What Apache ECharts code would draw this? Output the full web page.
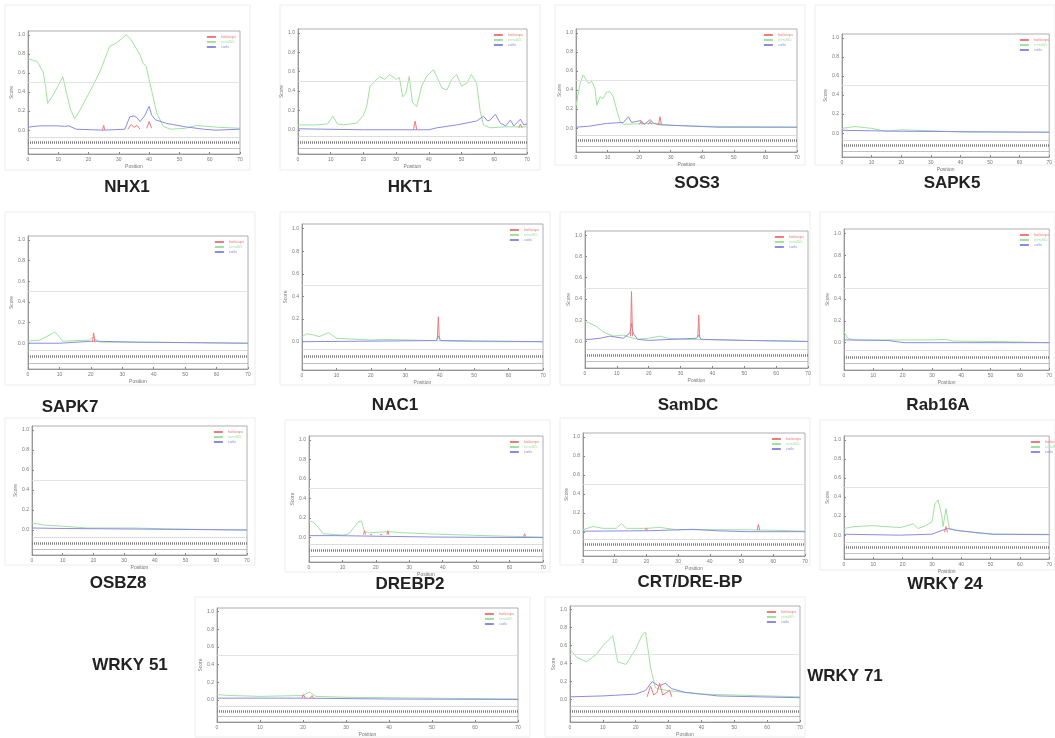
<!DOCTYPE html>
<html>
<head>
<meta charset="utf-8">
<script src="https://cdn.jsdelivr.net/npm/echarts@6/dist/echarts.min.js"></script>
<style>
  html, body { margin: 0; padding: 0; background: #fff; }
  #chart { width: 1055px; height: 738px; }
</style>
</head>
<body>
<div id="chart"></div>
<script>
// tick labels
const xTicks = [0, 10, 20, 30, 40, 50, 60, 70];
const yTicks = [0, 0.2, 0.4, 0.6, 0.8, 1.0];
const seriesNames = ['hotloops', 'rem465', 'coils'];
const genes = ['NHX1', 'HKT1', 'SOS3', 'SAPK5', 'SAPK7', 'NAC1', 'SamDC', 'Rab16A',
  'OSBZ8', 'DREBP2', 'CRT/DRE-BP', 'WRKY 24', 'WRKY 51', 'WRKY 71'];

// [position, score]; '-' breaks the line between spikes
const nhx1Green = [[0,0.75],[3,0.72],[5,0.61],[5.8,0.46],[6.5,0.28],[7.5,0.33],[8.5,0.38],[10,0.47],[11.5,0.56],[12.5,0.42],[14,0.22],[15.4,0.12],[17,0.2],[19,0.32],[21.5,0.47],[24,0.63],[26,0.8],[27,0.88],[29,0.91],[31,0.96],[32.5,1.0],[34,0.95],[35.5,0.87],[37,0.79],[38,0.7],[39,0.67],[40,0.53],[41.3,0.35],[42.5,0.18],[44.7,0.04],[47,0.01],[52,0.02],[55.7,0.05],[59,0.04],[63,0.03],[70,0.02]];
const nhx1Blue = [[0,0.03],[2,0.04],[4,0.045],[10,0.045],[12,0.04],[13.5,0.045],[14.5,0.03],[16,0.01],[25,0.0],[32,0.01],[33.6,0.14],[35,0.15],[36,0.13],[37,0.09],[38.5,0.15],[40,0.25],[40.8,0.16],[42,0.11],[45.8,0.07],[52,0.035],[58,0.01],[62,0.0],[70,0.01]];
const nhx1Red = [[24.6,0.0],[25,0.05],[25.4,0.0],[30,'-'],[33,0.01],[34,0.06],[35,0.03],[36,0.05],[37,0.01],[38,'-'],[39.2,0.02],[40,0.09],[40.8,0.02]];

const hkt1Green = [[0,0.05],[5,0.05],[9,0.06],[10.7,0.14],[12,0.06],[14,0.05],[18,0.07],[20,0.15],[21,0.24],[22,0.45],[23.5,0.5],[25,0.55],[26.5,0.52],[28,0.57],[30,0.52],[31,0.54],[32,0.34],[33,0.38],[34,0.55],[35,0.28],[36.3,0.24],[37.8,0.45],[39.3,0.55],[41.4,0.62],[42.4,0.55],[44,0.43],[45.5,0.41],[47,0.52],[48.5,0.57],[50,0.45],[51.6,0.48],[53,0.57],[54.6,0.48],[55.7,0.19],[56.7,0.05],[58.7,0.02],[63,0.03],[70,0.03]];
const hkt1Blue = [[0,0.01],[20,0.0],[40,0.0],[42.4,0.02],[48.5,0.05],[54.6,0.09],[56.7,0.14],[58,0.09],[58.7,0.1],[60.3,0.16],[61.8,0.07],[63.5,0.04],[64.9,0.1],[66,0.04],[68,0.11],[69,0.05],[70,0.06]];
const hkt1Red = [[35.3,0.0],[35.8,0.09],[36.3,0.0],[37,'-'],[67.5,0.02],[68,0.06],[68.5,0.02]];

const sos3Green = [[0,0.23],[1.3,0.47],[2.3,0.56],[3.9,0.47],[5,0.49],[6,0.42],[6.6,0.24],[7.6,0.33],[8.6,0.31],[9.7,0.38],[10.8,0.38],[11.8,0.33],[12.9,0.19],[14,0.07],[15,0.04],[25,0.05],[30,0.03],[40,0.02],[70,0.01]];
const sos3Blue = [[0,0.01],[4,0.02],[9.7,0.05],[15,0.06],[16.6,0.12],[17.6,0.06],[20.6,0.08],[21.6,0.04],[23.5,0.09],[24.6,0.05],[26.6,0.035],[34,0.025],[45,0.01],[70,0.01]];
const sos3Red = [[20.1,0.04],[20.6,0.07],[21.1,0.04],[22,'-'],[23,0.04],[23.5,0.07],[24,0.04],[25,'-'],[26.1,0.03],[26.6,0.12],[27.1,0.03]];

const sapk5Green = [[0,0.05],[4.4,0.07],[10,0.05],[15,0.02],[20,0.035],[30,0.025],[42,0.01],[70,0.01]];
const sapk5Blue = [[0,0.03],[10,0.025],[20,0.02],[70,0.01]];
const sapk5Red = [];

const sapk7Green = [[0,0.02],[3.7,0.03],[6.9,0.08],[8.5,0.11],[10,0.06],[11,0.02],[19.5,0.03],[20.7,0.06],[21.3,0.04],[23,0.01],[40,0.01],[70,0.0]];
const sapk7Blue = [[0,0.0],[10,0.0],[20.7,0.02],[35,0.01],[70,0.0]];
const sapk7Red = [[20.5,0.01],[20.9,0.1],[21.3,0.01]];

const nac1Green = [[0,0.045],[1.4,0.07],[3.3,0.06],[5,0.045],[7.7,0.08],[10.1,0.03],[20,0.015],[23.6,0.02],[38,0.01],[50,0.0],[70,0.0]];
const nac1Blue = [[0,0.0],[20,0.005],[39,0.01],[39.6,0.05],[40.3,0.01],[70,0.0]];
const nac1Red = [[39.3,0.02],[39.6,0.22],[39.9,0.02]];

const samdcGreen = [[0,0.19],[1.6,0.17],[3.7,0.14],[5.7,0.09],[8.9,0.05],[12,0.06],[14,0.04],[16.5,0.02],[20,0.03],[23.5,0.05],[26,0.03],[31,0.02],[50,0.01],[70,0.0]];
const samdcBlue = [[0,0.015],[4.7,0.03],[7.8,0.05],[12,0.03],[14.1,0.08],[14.6,0.17],[15.1,0.08],[16.5,0.02],[20,0.01],[35,0.03],[35.7,0.06],[36.4,0.02],[50,0.01],[70,0.0]];
const samdcRed = [[14.3,0.05],[14.6,0.47],[14.9,0.05],[20,'-'],[35.4,0.04],[35.7,0.25],[36,0.04]];

const rab16aGreen = [[0,0.1],[1.3,0.04],[3.6,0.025],[15,0.025],[30,0.025],[34.8,0.03],[37,0.015],[53,0.01],[70,0.0]];
const rab16aBlue = [[0,0.025],[15,0.02],[20.5,0.0],[70,0.0]];
const rab16aRed = [];

const osbz8Green = [[0,0.07],[0.5,0.08],[3.8,0.05],[9.2,0.04],[18,0.02],[33,0.02],[46,0.01],[70,0.0]];
const osbz8Blue = [[0,0.02],[11,0.015],[33,0.01],[70,0.0]];
const osbz8Red = [];

const drebp2Green = [[0,0.17],[1.2,0.16],[2.7,0.11],[4.2,0.04],[10,0.025],[12,0.04],[14.7,0.16],[15.7,0.17],[16.6,0.06],[18,0.05],[24,0.06],[28,0.05],[38,0.035],[48,0.025],[58,0.015],[70,0.005]];
const drebp2Blue = [[0,0.02],[8,0.02],[18,0.015],[38,0.005],[70,0.0]];
const drebp2Red = [[16.3,0.03],[16.6,0.07],[16.9,0.03],[17.5,'-'],[18.3,0.03],[18.6,0.05],[18.9,0.03],[20,'-'],[21.3,0.03],[21.6,0.05],[21.9,0.03],[22.5,'-'],[23.3,0.03],[23.6,0.07],[23.9,0.03],[30,'-'],[64.2,0.01],[64.5,0.04],[64.8,0.01]];

const crtGreen = [[0,0.025],[3.2,0.06],[6.3,0.04],[10.5,0.04],[12.1,0.09],[13.7,0.04],[20,0.04],[24.2,0.05],[29.5,0.025],[34.7,0.025],[50,0.025],[60,0.02],[70,0.01]];
const crtBlue = [[0,0.01],[21,0.015],[34.7,0.03],[42,0.015],[52,0.005],[70,0.005]];
const crtRed = [[19.7,0.02],[20,0.045],[20.3,0.02],[30,'-'],[54.9,0.02],[55.3,0.08],[55.7,0.02]];

const wrky24Green = [[0,0.07],[3.4,0.09],[9.8,0.1],[14,0.09],[19.4,0.08],[23.6,0.12],[25.2,0.07],[27.9,0.1],[30,0.14],[31,0.33],[32.1,0.37],[33.2,0.23],[33.8,0.09],[34.8,0.28],[35.9,0.07],[38.7,0.05],[46,0.02],[51,0.01],[70,0.01]];
const wrky24Blue = [[0,0.01],[19,0.0],[30,0.01],[32.1,0.035],[35.3,0.07],[38.3,0.05],[46,0.025],[51,0.01],[70,0.005]];
const wrky24Red = [[34.3,0.03],[34.8,0.09],[35.3,0.03]];

const wrky51Green = [[0,0.06],[3,0.05],[10,0.04],[20,0.05],[21.5,0.09],[23,0.04],[30,0.03],[50,0.02],[70,0.01]];
const wrky51Blue = [[0,0.02],[20,0.02],[40,0.01],[70,0.005]];
const wrky51Red = [[19.7,0.02],[20.1,0.06],[20.5,0.02],[21,'-'],[21.7,0.02],[22.1,0.05],[22.5,0.02]];

const wrky71Green = [[0,0.56],[2,0.47],[5,0.42],[8,0.5],[10,0.6],[12,0.67],[13,0.71],[14.5,0.42],[17,0.39],[20,0.56],[22,0.72],[23,0.75],[24.5,0.36],[26,0.13],[28,0.11],[32,0.09],[40,0.06],[70,0.03]];
const wrky71Blue = [[0,0.03],[10,0.04],[20,0.06],[23,0.1],[25,0.2],[27,0.15],[29,0.18],[31,0.12],[35,0.08],[45,0.04],[70,0.02]];
const wrky71Red = [[23.5,0.03],[24.5,0.15],[25.5,0.05],[26.5,0.08],[27.3,0.18],[28.2,0.05],[29.5,0.08],[30.3,0.1],[31,0.03]];

const greenData = [nhx1Green, hkt1Green, sos3Green, sapk5Green, sapk7Green, nac1Green, samdcGreen, rab16aGreen,
  osbz8Green, drebp2Green, crtGreen, wrky24Green, wrky51Green, wrky71Green];
const blueData = [nhx1Blue, hkt1Blue, sos3Blue, sapk5Blue, sapk7Blue, nac1Blue, samdcBlue, rab16aBlue,
  osbz8Blue, drebp2Blue, crtBlue, wrky24Blue, wrky51Blue, wrky71Blue];
const redData = [nhx1Red, hkt1Red, sos3Red, sapk5Red, sapk7Red, nac1Red, samdcRed, rab16aRed,
  osbz8Red, drebp2Red, crtRed, wrky24Red, wrky51Red, wrky71Red];

// panel placement: plot box and gene label centre, frame of the sub-image
const layouts = [
  { l: 28,  t: 31,  w: 212, h: 123, lx: 127, ly: 187, f: [5, 5, 245, 165] },
  { l: 298, t: 29,  w: 229, h: 125, lx: 410, ly: 187, f: [280, 5, 260, 165] },
  { l: 576, t: 29,  w: 221, h: 123, lx: 697, ly: 183, f: [555, 5, 250, 160] },
  { l: 842, t: 34,  w: 211, h: 123, lx: 952, ly: 183, f: [815, 5, 240, 160] },
  { l: 28,  t: 236, w: 220, h: 133, lx: 70,  ly: 407, f: [5, 212, 250, 173] },
  { l: 302, t: 224, w: 241, h: 146, lx: 395, ly: 405, f: [280, 212, 270, 173] },
  { l: 585, t: 231, w: 223, h: 137, lx: 688, ly: 405, f: [560, 212, 250, 173] },
  { l: 844, t: 229, w: 209, h: 141, lx: 938, ly: 405, f: [820, 212, 235, 173] },
  { l: 32,  t: 426, w: 215, h: 129, lx: 118, ly: 583, f: [5, 418, 250, 147] },
  { l: 309, t: 436, w: 234, h: 126, lx: 410, ly: 584, f: [285, 420, 265, 152] },
  { l: 583, t: 433, w: 222, h: 123, lx: 690, ly: 582, f: [560, 418, 250, 147] },
  { l: 844, t: 436, w: 220, h: 123, lx: 945, ly: 584, f: [820, 420, 235, 150] },
  { l: 217, t: 608, w: 301, h: 118, lx: 130, ly: 665, f: [195, 597, 335, 140] },
  { l: 570, t: 606, w: 230, h: 116, lx: 845, ly: 676, f: [545, 597, 260, 140] }
];

const RED = '#ef7b7b', GREEN = '#9fe39f', BLUE = '#8b8be6';

const grid = [], xAxis = [], yAxis = [], legend = [], series = [], graphic = [];

layouts.forEach((p, i) => {
  grid.push({ left: p.l, top: p.t, width: p.w, height: p.h, show: true,
    borderColor: '#9a9a9a', borderWidth: 0.8, backgroundColor: 'transparent' });
  xAxis.push({
    gridIndex: i, type: 'value', min: 0, max: 70, interval: 10,
    name: 'Position', nameLocation: 'middle', nameGap: 10,
    nameTextStyle: { fontSize: 5, color: '#777' },
    axisLine: { onZero: false, lineStyle: { color: '#888', width: 0.8 } },
    axisTick: { inside: true, length: 2, lineStyle: { color: '#888' } },
    axisLabel: { fontSize: 5, color: '#777', margin: 3 },
    splitLine: { show: false }
  });
  yAxis.push({
    gridIndex: i, type: 'value', min: -0.25, max: 1.04,
    name: 'Score', nameLocation: 'middle', nameGap: 14, nameRotate: 90,
    nameTextStyle: { fontSize: 5, color: '#777' },
    axisLine: { show: true, onZero: false, lineStyle: { color: '#888', width: 0.8 } },
    axisTick: { inside: true, length: 2, customValues: yTicks, lineStyle: { color: '#888' } },
    axisLabel: { fontSize: 5, color: '#777', margin: 3, customValues: yTicks,
      formatter: v => v.toFixed(1) },
    splitLine: { show: false }
  });
  legend.push({
    data: [
      { name: seriesNames[0], textStyle: { color: RED } },
      { name: seriesNames[1], textStyle: { color: GREEN } },
      { name: seriesNames[2], textStyle: { color: BLUE } }
    ],
    orient: 'vertical', right: 1055 - (p.l + p.w) + 4, top: p.t + 4,
    itemWidth: 9, itemHeight: 2, itemGap: 1, icon: 'rect',
    textStyle: { fontSize: 4 }, selectedMode: false, padding: 0
  });
  series.push({
    name: seriesNames[1], type: 'line', xAxisIndex: i, yAxisIndex: i,
    data: greenData[i], symbol: 'none', color: GREEN, lineStyle: { width: 1 }, z: 2
  });
  series.push({
    name: seriesNames[2], type: 'line', xAxisIndex: i, yAxisIndex: i,
    data: blueData[i], symbol: 'none', color: BLUE, lineStyle: { width: 1 }, z: 3,
    markLine: {
      silent: true, symbol: 'none', label: { show: false },
      data: [
        { yAxis: 0.5, lineStyle: { color: '#dcdcdc', width: 0.8, type: 'solid' } },
        { yAxis: -0.07, lineStyle: { color: '#c4c4c4', width: 0.6, type: 'solid' } },
        { yAxis: -0.13, lineStyle: { color: '#808080', width: 2.5, type: [1, 1] } },
        { yAxis: -0.19, lineStyle: { color: '#999', width: 0.6, type: 'solid' } }
      ]
    }
  });
  series.push({
    name: seriesNames[0], type: 'line', xAxisIndex: i, yAxisIndex: i,
    data: redData[i], symbol: 'none', color: RED, lineStyle: { width: 1 },
    connectNulls: false, z: 4
  });
  graphic.push({
    type: 'rect', shape: { x: p.f[0], y: p.f[1], width: p.f[2], height: p.f[3] },
    style: { fill: 'none', stroke: '#ededed', lineWidth: 1 }, z: -10
  });
  graphic.push({
    type: 'text', x: p.lx, y: p.ly,
    style: { text: genes[i], fill: '#222', font: 'bold 17px "Liberation Sans", Arial, sans-serif',
      textAlign: 'center', textVerticalAlign: 'middle' }
  });
});

const chart = echarts.init(document.getElementById('chart'), null, { renderer: 'canvas' });
chart.setOption({
  animation: false,
  backgroundColor: '#fff',
  textStyle: { fontFamily: 'Liberation Sans' },
  grid, xAxis, yAxis, legend, series, graphic
});
</script>
</body>
</html>
